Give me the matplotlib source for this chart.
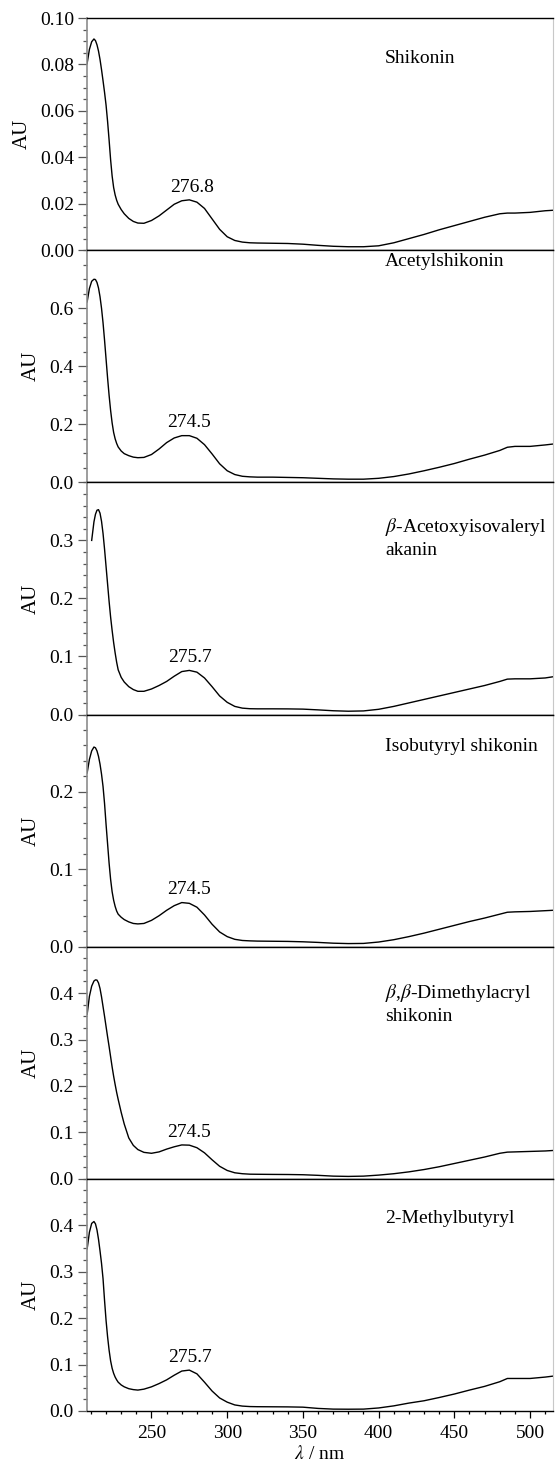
import numpy as np
import matplotlib
matplotlib.use('Agg')
import matplotlib.pyplot as plt
from matplotlib.ticker import MultipleLocator, FixedLocator

plt.rcParams['font.family'] = ['Liberation Serif', 'DejaVu Serif']
plt.rcParams['mathtext.fontset'] = 'stix'

# wavelength grid (nm)
wavelength = [207.5, 209, 210.5, 212, 213, 214, 215, 216, 217, 218, 219, 220, 221, 222,
              223, 224, 225, 226, 227, 228, 230, 232, 235, 238, 241, 245,
              250, 255, 260, 265, 270, 275, 280, 285, 290, 295, 300,
              305, 310, 315, 320, 330, 340, 350, 360, 370, 380, 390, 400, 410,
              420, 430, 440, 450, 460, 470, 480, 485, 490, 500, 510, 515]

shikonin = [0.0805, 0.0865, 0.0898, 0.0910, 0.0903, 0.0885, 0.0858, 0.0822, 0.0778, 0.0730,
            0.0680, 0.0625, 0.0555, 0.0475, 0.0390, 0.0320, 0.0270, 0.0238, 0.0215, 0.0198,
            0.0175, 0.0157, 0.0137, 0.0124, 0.0117, 0.0116,
            0.0128, 0.0148, 0.0173, 0.0198, 0.0213, 0.0217, 0.0207, 0.0180, 0.0135, 0.0090,
            0.0058, 0.0042, 0.0035, 0.0032, 0.0031, 0.0030, 0.0029, 0.0026, 0.0021, 0.0017,
            0.0015, 0.0015, 0.0019, 0.0032, 0.0050, 0.0068, 0.0088, 0.0106, 0.0124, 0.0142,
            0.0157, 0.0160, 0.0160, 0.0163, 0.0170, 0.0172]

acetyl = [0.622, 0.668, 0.693, 0.700, 0.699, 0.689, 0.670, 0.640, 0.600, 0.550,
          0.490, 0.425, 0.360, 0.300, 0.248, 0.205, 0.172, 0.150, 0.134, 0.122,
          0.108, 0.099, 0.092, 0.087, 0.085, 0.086,
          0.096, 0.115, 0.137, 0.153, 0.161, 0.161, 0.152, 0.130, 0.098, 0.064,
          0.040, 0.027, 0.021, 0.019, 0.018, 0.018, 0.017, 0.016, 0.014, 0.012,
          0.011, 0.011, 0.014, 0.020, 0.029, 0.040, 0.052, 0.065, 0.080, 0.094,
          0.110, 0.121, 0.124, 0.124, 0.129, 0.132]

akanin = [np.nan, np.nan, 0.300, 0.332, 0.345, 0.352, 0.353, 0.347, 0.333, 0.312,
          0.285, 0.255, 0.225, 0.195, 0.168, 0.145, 0.124, 0.106, 0.090, 0.077,
          0.064, 0.056, 0.048, 0.043, 0.040, 0.040,
          0.044, 0.050, 0.057, 0.066, 0.074, 0.076, 0.073, 0.063, 0.048, 0.032,
          0.021, 0.014, 0.011, 0.010, 0.0098, 0.0098, 0.0097, 0.0093, 0.0080, 0.0065,
          0.0057, 0.0062, 0.0090, 0.0140, 0.020, 0.026, 0.032, 0.038, 0.044, 0.050,
          0.057, 0.061, 0.0615, 0.0615, 0.063, 0.065]

isobutyryl = [0.2245, 0.242, 0.253, 0.258, 0.257, 0.253, 0.246, 0.236, 0.223, 0.207,
              0.185, 0.158, 0.133, 0.108, 0.087, 0.071, 0.060, 0.052, 0.046, 0.042,
              0.038, 0.035, 0.032, 0.030, 0.0294, 0.030,
              0.034, 0.040, 0.047, 0.053, 0.057, 0.056, 0.051, 0.041, 0.029, 0.019,
              0.013, 0.0095, 0.0080, 0.0075, 0.0072, 0.0070, 0.0068, 0.0063, 0.0055, 0.0045,
              0.0040, 0.0042, 0.0060, 0.0090, 0.0130, 0.0175, 0.0225, 0.0275, 0.0325, 0.0370,
              0.0420, 0.0445, 0.0450, 0.0455, 0.0465, 0.0470]

dimethylacryl = [0.354, 0.393, 0.415, 0.426, 0.4285, 0.428, 0.422, 0.410, 0.392, 0.371,
                 0.350, 0.328, 0.306, 0.285, 0.263, 0.241, 0.221, 0.203, 0.186, 0.171,
                 0.143, 0.118, 0.088, 0.072, 0.063, 0.057,
                 0.055, 0.058, 0.064, 0.069, 0.0730, 0.0725, 0.067, 0.056, 0.041, 0.027,
                 0.018, 0.013, 0.011, 0.010, 0.0098, 0.0095, 0.0093, 0.0088, 0.0075, 0.0058,
                 0.0052, 0.0058, 0.0080, 0.0110, 0.0150, 0.0200, 0.0260, 0.0330, 0.0400, 0.0470,
                 0.0550, 0.0575, 0.0580, 0.0590, 0.0600, 0.0610]

methylbutyryl = [0.349, 0.385, 0.404, 0.408, 0.403, 0.390, 0.370, 0.345, 0.318, 0.285,
                 0.238, 0.195, 0.160, 0.131, 0.108, 0.092, 0.081, 0.073, 0.067, 0.062,
                 0.056, 0.052, 0.048, 0.046, 0.045, 0.047,
                 0.052, 0.059, 0.067, 0.077, 0.086, 0.088, 0.080, 0.062, 0.043, 0.028,
                 0.019, 0.013, 0.0105, 0.0095, 0.0092, 0.0090, 0.0088, 0.0082, 0.0055, 0.0040,
                 0.0038, 0.0040, 0.0065, 0.0110, 0.0170, 0.0220, 0.0290, 0.0365, 0.0450, 0.0530,
                 0.0630, 0.0700, 0.0700, 0.0700, 0.0730, 0.0750]

series = [shikonin, acetyl, akanin, isobutyryl, dimethylacryl, methylbutyryl]
names = ['Shikonin', 'Acetylshikonin', '$\\beta$-Acetoxyisovaleryl\nakanin',
         'Isobutyryl shikonin', '$\\beta$,$\\beta$-Dimethylacryl\nshikonin', '2-Methylbutyryl']
peak_labels = ['276.8', '274.5', '275.7', '274.5', '274.5', '275.7']
y_max = [0.10, 0.8, 0.4, 0.3, 0.5, 0.5]
y_major = [0.02, 0.2, 0.1, 0.1, 0.1, 0.1]
y_minor = [0.005, 0.05, 0.02, 0.02, 0.025, 0.025]
name_y = [0.825, 0.951, 0.764, 0.862, 0.754, 0.827]

fig, axes = plt.subplots(6, 1, figsize=(5.55, 14.69), dpi=100, sharex=True)
fig.subplots_adjust(left=0.157, right=0.996, top=0.9877, bottom=0.0395, hspace=0)

wl = np.array(wavelength)
for i, ax in enumerate(axes):
    vals = np.array(series[i], dtype=float)
    ax.plot(wl, vals, color='black', lw=1.0)
    ax.set_xlim(207.5, 515)
    ax.set_ylim(0, y_max[i])

    ticks = np.arange(0, y_max[i] + 1e-9, y_major[i])
    if i > 0:
        ticks = ticks[:-1]
    ax.yaxis.set_major_locator(FixedLocator(ticks))
    ax.yaxis.set_minor_locator(MultipleLocator(y_minor[i]))
    fmt = '{:.2f}' if i == 0 else '{:.1f}'
    ax.set_yticklabels([fmt.format(t) for t in ticks])

    ax.xaxis.set_major_locator(MultipleLocator(50))
    ax.xaxis.set_minor_locator(MultipleLocator(10))

    ax.tick_params(axis='y', which='both', direction='out', color='#555555',
                   labelsize=14, pad=3)
    ax.tick_params(axis='y', which='major', length=6.5, width=0.9)
    ax.tick_params(axis='y', which='minor', length=3.2, width=0.9)
    ax.tick_params(axis='x', which='both', direction='out', top=False,
                   labelsize=14, pad=5)
    ax.tick_params(axis='x', which='major', length=5, width=0.9)
    ax.tick_params(axis='x', which='minor', length=2.5, width=0.9)

    ax.spines['left'].set_color('#8c8c8c')
    ax.spines['left'].set_linewidth(1.2)
    ax.spines['right'].set_color('#c8c8c8')
    ax.spines['right'].set_linewidth(0.8)
    ax.spines['top'].set_linewidth(1.0)
    ax.spines['bottom'].set_linewidth(1.0)

    ax.set_ylabel('AU', fontsize=15, labelpad=6)

    ax.text(0.64, name_y[i], names[i], transform=ax.transAxes, fontsize=14,
            ha='left', va='center', linespacing=1.3)

    pk = float(peak_labels[i])
    band = (wl > 255) & (wl < 295)
    ax.annotate(peak_labels[i], xy=(pk, np.nanmax(vals[band])), xytext=(0, 3),
                textcoords='offset points', ha='center', va='bottom', fontsize=14)

axes[-1].set_xlabel('$\\lambda$ / nm', fontsize=14, labelpad=2)

fig.savefig('out.png', dpi=100)
